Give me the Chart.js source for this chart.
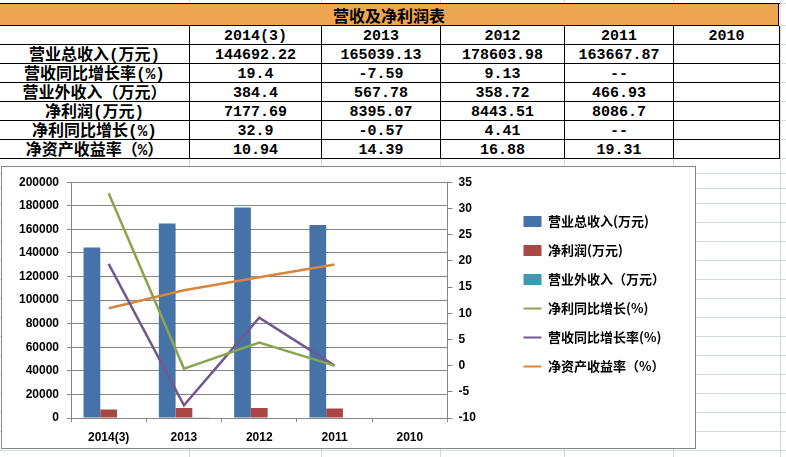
<!DOCTYPE html>
<html>
<head>
<meta charset="utf-8">
<script src="https://cdn.jsdelivr.net/npm/chart.js@4.4.1/dist/chart.umd.min.js"></script>
<style>
  body { margin: 0; width: 786px; height: 457px; overflow: hidden; background: #fff; position: relative; }
  .gl { position: absolute; background: #d0d7e5; }
  .cell { position: absolute; box-sizing: border-box; text-align: center; white-space: nowrap; overflow: hidden;
          background: #fff; color: #000; border-right: 1px solid #000; border-bottom: 1px solid #000;
          font: bold 15px "Liberation Mono", "Noto Sans CJK SC", monospace; }
  .cell.lab { font-size: 16px; }
  .cell.title { background: #eda552; font: bold 16px "Noto Sans CJK SC", sans-serif; }
  #sheet { position: absolute; left: 0; top: 0; }
  #box { position: absolute; left: 1px; top: 166px; width: 693px; height: 281px; border: 1px solid #868686; background: #fff; }
</style>
</head>
<body>
<div id="sheet"></div>
<div id="box"><canvas id="myChart"></canvas></div>
<script>
// ---- data ----
const tableTitle = "营收及净利润表";
const years = ["2014(3)", "2013", "2012", "2011", "2010"];
const totalRevenue = [144692.22, 165039.13, 178603.98, 163667.87, null];
const revenueGrowth = [19.4, -7.59, 9.13, "--", null];
const nonOpIncome = [384.4, 567.78, 358.72, 466.93, null];
const netProfit = [7177.69, 8395.07, 8443.51, 8086.7, null];
const profitGrowth = [32.9, -0.57, 4.41, "--", null];
const roe = [10.94, 14.39, 16.88, 19.31, null];

const rowNames = ["营业总收入(万元)", "营收同比增长率(%)", "营业外收入（万元）", "净利润(万元)", "净利同比增长(%)", "净资产收益率（%）"];
const rowValues = [totalRevenue, revenueGrowth, nonOpIncome, netProfit, profitGrowth, roe];

const legendNames = ["营业总收入(万元)", "净利润(万元)", "营业外收入（万元）", "净利同比增长(%)", "营收同比增长率(%)", "净资产收益率（%）"];

//------------------------------------------
// spreadsheet background + table
const sheet = document.getElementById("sheet");
const colEdges = [-1, 189, 321, 440, 564, 673, 779];
const rowEdges = [3, 25, 44, 63, 82, 101, 120, 139, 158];
const sheetCols = [189, 321, 440, 564, 673, 780];
const sheetRows = [3, 25, 44, 63, 82, 101, 120, 139, 158, 173, 188, 203, 222, 241, 260, 279, 298, 317, 336, 355, 374, 393, 412, 431, 450];

function addDiv(cls, l, t, w, h, text) {
  const d = document.createElement("div");
  d.className = cls;
  d.style.left = l + "px";
  d.style.top = t + "px";
  d.style.width = w + "px";
  d.style.height = h + "px";
  if (text !== undefined) {
    d.textContent = text;
    d.style.lineHeight = (h + 3) + "px";
  }
  sheet.appendChild(d);
  return d;
}

sheetCols.forEach((x) => addDiv("gl", x, 0, 1, 457));
sheetRows.forEach((y) => addDiv("gl", 0, y, 786, 1));

// outer top border
addDiv("", -1, rowEdges[0], colEdges[6] + 2, 1).style.cssText += ";position:absolute;background:#000";

const show = (v) => (v === null ? "" : String(v));
const t = addDiv("cell title", 0, rowEdges[0] + 1, colEdges[6], rowEdges[1] - rowEdges[0], tableTitle);
t.style.lineHeight = (rowEdges[1] - rowEdges[0]) + "px";

for (let r = 1; r < rowEdges.length - 1; r++) {
  for (let c = 0; c < colEdges.length - 1; c++) {
    let text = "";
    if (r === 1) text = c === 0 ? "" : years[c - 1];
    else text = c === 0 ? rowNames[r - 2] : show(rowValues[r - 2][c - 1]);
    addDiv(c === 0 ? "cell lab" : "cell", colEdges[c] + 1, rowEdges[r] + 1,
      colEdges[c + 1] - colEdges[c], rowEdges[r + 1] - rowEdges[r], text);
  }
}

//------------------------------------------
// chart
const toNum = (v) => (v === "--" ? 0 : v); // text cells plot as 0
const gridColor = "#868686";
const tickFont = { family: "'Liberation Sans', Arial, sans-serif", size: 12, weight: "bold" };

const ctx = document.getElementById("myChart");
const myChart = new Chart(ctx, {
  data: {
    labels: years,
    datasets: [
      { type: "bar", label: legendNames[0], data: totalRevenue, backgroundColor: "#4572a7", order: 1 },
      { type: "bar", label: legendNames[1], data: netProfit, backgroundColor: "#aa4643", order: 1 },
      { type: "bar", label: legendNames[2], data: nonOpIncome, backgroundColor: "#4198af", order: 1 },
      { type: "line", label: legendNames[3], data: profitGrowth.map(toNum), borderColor: "#89a54e", yAxisID: "y1", order: 0 },
      { type: "line", label: legendNames[4], data: revenueGrowth.map(toNum), borderColor: "#71588f", yAxisID: "y1", order: 0 },
      { type: "line", label: legendNames[5], data: roe.map(toNum), borderColor: "#db843d", yAxisID: "y1", order: 0 },
    ],
  },
  options: {
    responsive: true,
    maintainAspectRatio: false,
    animation: false,
    events: [],
    layout: { padding: { top: 14, right: 20, bottom: 0, left: 0 } },
    datasets: {
      bar: { barPercentage: 1, categoryPercentage: 0.667, borderWidth: 0 },
      line: { borderWidth: 2.5, pointRadius: 0, tension: 0, fill: false, spanGaps: false },
    },
    scales: {
      x: {
        offset: true,
        grid: { offset: true, drawOnChartArea: false, tickLength: 4, color: gridColor },
        border: { color: gridColor },
        ticks: { color: "#000", font: tickFont, padding: 8, maxRotation: 0 },
        afterFit: (s) => { s.height = 30; },
      },
      y: {
        position: "left",
        min: 0,
        max: 200000,
        ticks: { stepSize: 20000, color: "#000", font: tickFont, padding: 8, callback: (v) => String(v) },
        grid: { color: gridColor, tickLength: 4 },
        border: { color: gridColor },
        afterFit: (s) => { s.width = 69; },
      },
      y1: {
        position: "right",
        min: -10,
        max: 35,
        ticks: { stepSize: 5, color: "#000", font: tickFont, padding: 6, callback: (v) => String(v) },
        grid: { drawOnChartArea: false, color: gridColor, tickLength: 5 },
        border: { color: gridColor },
        afterFit: (s) => { s.width = 60; },
      },
    },
    plugins: {
      tooltip: { enabled: false },
      legend: {
        position: "right",
        align: "start",
        maxWidth: 300,
        title: { display: true, text: "", font: { size: 10, lineHeight: 1 }, padding: { top: 8, bottom: 0 } },
        labels: {
          color: "#000",
          font: { family: "'Noto Sans CJK SC', sans-serif", size: 13, weight: "bold" },
          usePointStyle: true,
          pointStyleWidth: 18,
          boxHeight: 11,
          padding: 16,
          sort: (a, b) => a.datasetIndex - b.datasetIndex,
          generateLabels: (chart) => {
            const items = Chart.defaults.plugins.legend.labels.generateLabels(chart);
            items.forEach((it) => {
              const ds = chart.data.datasets[it.datasetIndex];
              if (ds.type === "line") {
                it.pointStyle = "line";
                it.strokeStyle = ds.borderColor;
                it.lineWidth = 2;
              } else {
                it.pointStyle = "rect";
                it.fillStyle = ds.backgroundColor;
                it.lineWidth = 0;
              }
            });
            return items;
          },
        },
      },
    },
  },
});
</script>
</body>
</html>
